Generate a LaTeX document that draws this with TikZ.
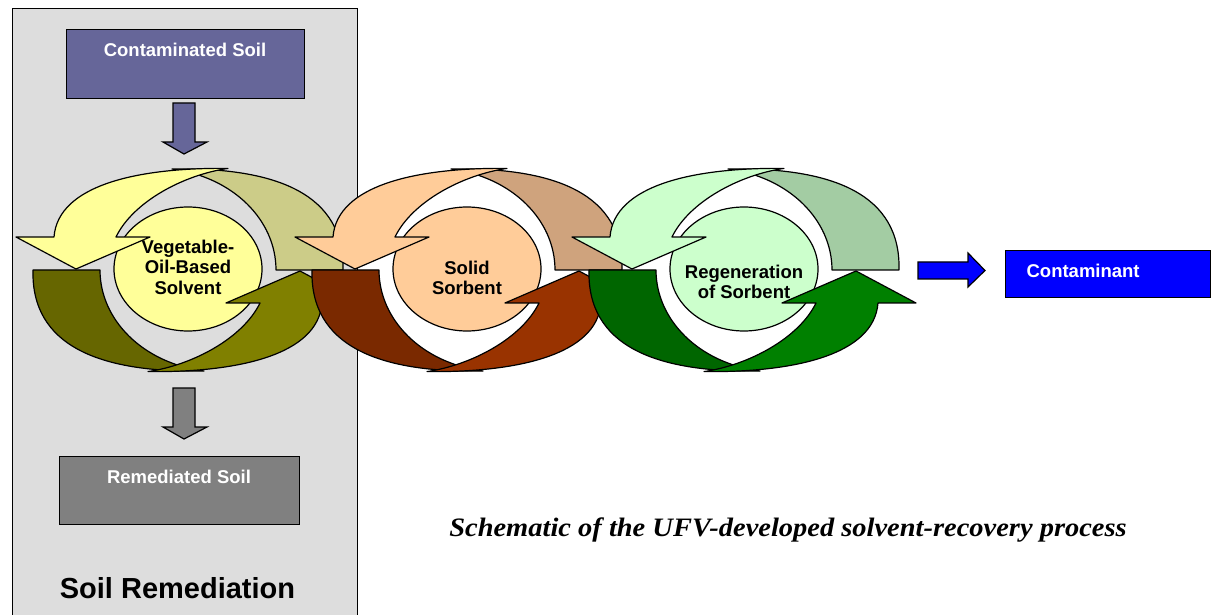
\documentclass[tikz,border=0pt]{standalone}
\usepackage{fontspec}
\setmainfont{Liberation Sans}
\newfontfamily\capfont{Liberation Serif}
\definecolor{panelgrey}{HTML}{DDDDDD}
\definecolor{csblue}{HTML}{666699}
\definecolor{remgrey}{HTML}{808080}
\definecolor{contblue}{HTML}{0000FF}
\definecolor{yA}{HTML}{FFFF99}
\definecolor{yB}{HTML}{CCCC88}
\definecolor{yC}{HTML}{666600}
\definecolor{yD}{HTML}{808000}
\definecolor{pA}{HTML}{FFCC99}
\definecolor{pB}{HTML}{CFA37D}
\definecolor{pC}{HTML}{7A2900}
\definecolor{pD}{HTML}{993300}
\definecolor{gA}{HTML}{CCFFCC}
\definecolor{gB}{HTML}{A3CCA3}
\definecolor{gC}{HTML}{006600}
\definecolor{gD}{HTML}{008000}
\newcommand\myLightArrow{(40,-101.6) .. controls (-50,-102.6) and (-130,-85) .. (-134,-33) -- (-172,-33) -- (-112,-1) -- (-38,-33) -- (-72,-33) .. controls (-55,-68) and (-5,-95) .. (40,-101.6) -- cycle}
\newcommand\myPiece{(88,0) -- (155,0) .. controls (157,-75) and (90,-103) .. (-16,-101) .. controls (45,-93) and (88,-50) .. (88,0) -- cycle}
\newcommand\drawcycle[8]{%
  \begin{scope}[shift={(#1,270)}, line join=round]
    \draw[fill=#5] (0,-1) ellipse [x radius=74, y radius=62];
    \node[cyctext] (#2) at (0,#4) {#3};
    \draw[fill=#6] \myPiece;
    \draw[fill=#5] \myLightArrow;
    \begin{scope}[rotate=180]
      \draw[fill=#7] \myPiece;
      \draw[fill=#8] \myLightArrow;
    \end{scope}
  \end{scope}}
\tikzset{
  btext/.style={font=\bfseries\fontsize{9.25}{11}\selectfont, inner sep=0pt},
  cyctext/.style={font=\bfseries\fontsize{9.25}{10.3}\selectfont, align=center, inner sep=0pt, text=black},
  boxnode/.style={draw, inner sep=0pt, anchor=north west}
}
\begin{document}
\begin{tikzpicture}[x=0.5pt, y=-0.5pt, line width=0.6pt, line join=miter]
\useasboundingbox (0,0) rectangle (1212,615);
\fill[white] (0,0) rectangle (1212,615);
% soil remediation panel
\node (panel) [boxnode, fill=panelgrey, minimum width=172.5pt, minimum height=312pt] at (12,8) {};
% contaminated soil
\node (cs) [boxnode, fill=csblue, minimum width=119pt, minimum height=34.5pt] at (66,29) {};
\node (cstext) [btext, text=white] at (185,50) {Contaminated Soil};
\draw[fill=csblue] (173,103) -- (195,103) -- (195,142) -- (207,142) -- (184,154) -- (163,142) -- (173,142) -- cycle;
% remediated soil
\draw[fill=remgrey] (173,388) -- (195,388) -- (195,427) -- (207,427) -- (184,439) -- (163,427) -- (173,427) -- cycle;
\node (rs) [boxnode, fill=remgrey, minimum width=120pt, minimum height=34pt] at (59,456) {};
\node (rstext) [btext, text=white] at (179,477) {Remediated Soil};
\node (sr) [font=\bfseries\fontsize{14.5}{17}\selectfont, inner sep=0pt] at (177.5,588) {Soil Remediation};
% cycles
\drawcycle{188}{c1}{Vegetable-\\Oil-Based\\Solvent}{-3}{yA}{yB}{yC}{yD}
\drawcycle{467}{c2}{Solid\\Sorbent}{8}{pA}{pB}{pC}{pD}
\drawcycle{744}{c3}{Regeneration\\of Sorbent}{12}{gA}{gB}{gC}{gD}
% contaminant
\draw[fill=contblue] (918,262) -- (968,262) -- (968,253) -- (985,270.5) -- (968,287) -- (968,279) -- (918,279) -- cycle;
\node (cont) [boxnode, fill=contblue, minimum width=102.5pt, minimum height=23.5pt] at (1005,250) {};
\node (conttext) [btext, text=white, anchor=west] at (1026,271) {Contaminant};
% caption
\node (cap) [font=\capfont\bfseries\itshape\fontsize{13.3}{15}\selectfont, inner sep=0pt] at (788,530) {\scalebox{1.07}[1]{Schematic of the UFV-developed solvent-recovery process}};
\end{tikzpicture}
\end{document}
